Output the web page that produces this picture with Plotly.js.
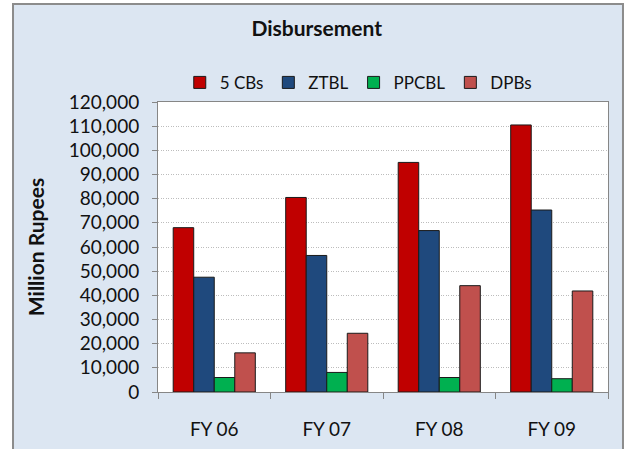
<!DOCTYPE html>
<html>
<head>
<meta charset="utf-8">
<script src="https://cdn.plot.ly/plotly-3.0.1.min.js"></script>
<style>html,body{margin:0;padding:0;background:#fff;}#chart{width:631px;height:449px;}</style>
</head>
<body>
<div id="chart"></div>
<script>
var categories = ["FY 06", "FY 07", "FY 08", "FY 09"];
var seriesNames = ["5 CBs", "ZTBL", "PPCBL", "DPBs"];
var cbs5 = [68000, 80500, 95000, 110500];
var ztbl = [47500, 56500, 66800, 75300];
var ppcbl = [6000, 8100, 6000, 5500];
var dpbs = [16200, 24300, 44000, 41800];
var yTickVals = [0,10000,20000,30000,40000,50000,60000,70000,80000,90000,100000,110000,120000];
var colors = ["#C00000", "#1F497D", "#00B050", "#C0504D"];

var allValues = [cbs5, ztbl, ppcbl, dpbs];
var data = allValues.map(function(v, i){
  return {
    type: "bar",
    name: seriesNames[i],
    x: categories,
    y: v,
    marker: {color: colors[i], line: {color: "#1a1a1a", width: 1}}
  };
});

var font = "Lato, 'Open Sans', sans-serif";
var layout = {
  width: 631, height: 449,
  margin: {l: 158, r: 23, t: 102, b: 57},
  paper_bgcolor: "#DCE6F2",
  plot_bgcolor: "#FFFFFF",
  font: {family: font, size: 18, color: "#111"},
  barmode: "group",
  bargap: 0.27,
  bargroupgap: 0,
  showlegend: true,
  title: {text: "<b>Disbursement</b>", font: {family: font, size: 21, color: "#111"}, x: 0.502, xanchor: "center", y: 0.937, yanchor: "middle"},
  legend: {orientation: "h", x: 0.445, xanchor: "center", y: 1.066, yanchor: "middle", font: {family: font, size: 17, color: "#111"}, bgcolor: "rgba(0,0,0,0)", itemwidth: 20, tracegroupgap: 0},
  xaxis: {
    type: "category",
    showline: true, linecolor: "#868686", linewidth: 1, mirror: true,
    ticks: "outside", ticklen: 6, tickcolor: "#868686", tickson: "boundaries",
    ticklabelstandoff: 20,
    tickfont: {family: font, size: 19, color: "#111"},
    showgrid: false
  },
  yaxis: {
    range: [0, 120000],
    tickvals: yTickVals,
    ticktext: yTickVals.map(function(v){return v.toLocaleString("en-US");}),
    showline: true, linecolor: "#868686", linewidth: 1, mirror: true,
    ticks: "outside", ticklen: 5, tickcolor: "#868686",
    ticklabelstandoff: 9,
    showgrid: true, gridcolor: "#BDBDBD", griddash: "1px,1.5px", gridwidth: 1,
    zeroline: false,
    tickfont: {family: font, size: 19, color: "#111"}
  },
  annotations: [{
    text: "<b>Million Rupees</b>", textangle: -90,
    xref: "paper", yref: "paper", x: -0.273, y: 0.5, xanchor: "center", yanchor: "middle",
    showarrow: false, font: {family: font, size: 21, color: "#111"}
  }],
  shapes: [
    {type: "rect", xref: "paper", yref: "paper", x0: -0.36, x1: -0.3222, y0: -0.3, y1: 1.4, fillcolor: "#FFFFFF", line: {width: 0}, layer: "below"},
    {type: "rect", xref: "paper", yref: "paper", x0: -0.36, x1: 1.06, y0: 1.338, y1: 1.4, fillcolor: "#FFFFFF", line: {width: 0}, layer: "below"},
    {type: "rect", xref: "paper", yref: "paper", x0: 1.0333, x1: 1.06, y0: -0.3, y1: 1.4, fillcolor: "#FFFFFF", line: {width: 0}, layer: "below"},
    {type: "rect", xref: "paper", yref: "paper", x0: -0.3222, x1: 1.0333, y0: -0.3, y1: 1.338, fillcolor: "rgba(0,0,0,0)", line: {color: "#8C8C8C", width: 2}, layer: "above"}
  ]
};

Plotly.newPlot("chart", data, layout, {displayModeBar: false, staticPlot: true});
</script>
</body>
</html>
